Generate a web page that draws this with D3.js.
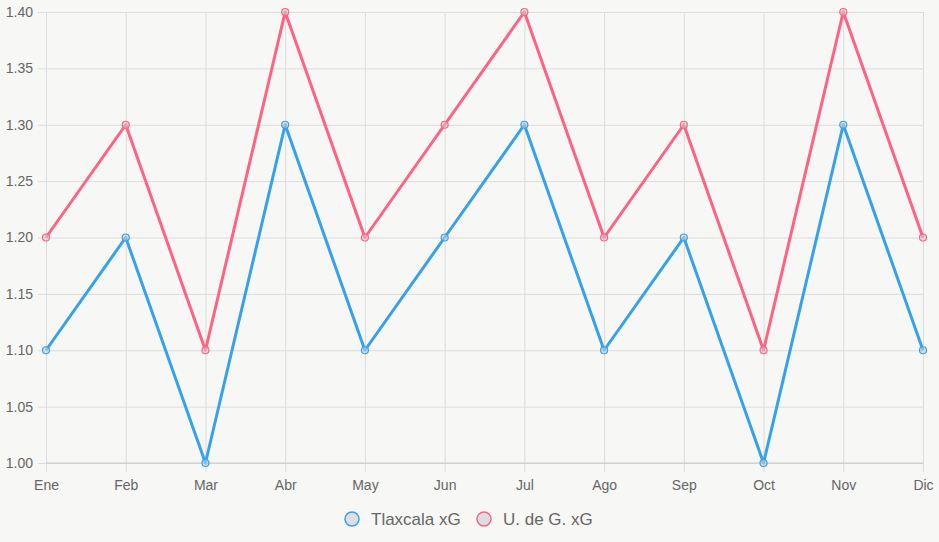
<!DOCTYPE html>
<html>
<head>
<meta charset="utf-8">
<script src="https://cdn.jsdelivr.net/npm/d3@7"></script>
<style>
  html, body { margin: 0; padding: 0; background: #f7f7f5; }
  svg { display: block; font-family: "Liberation Sans", Arial, sans-serif; }
</style>
</head>
<body>
<div id="chart"></div>
<script>
// datos
const meses = ["Ene", "Feb", "Mar", "Abr", "May", "Jun", "Jul", "Ago", "Sep", "Oct", "Nov", "Dic"];
const tlaxcala = [1.1, 1.2, 1.0, 1.3, 1.1, 1.2, 1.3, 1.1, 1.2, 1.0, 1.3, 1.1];
const udeg = [1.2, 1.3, 1.1, 1.4, 1.2, 1.3, 1.4, 1.2, 1.3, 1.1, 1.4, 1.2];
const yTicks = [1.0, 1.05, 1.1, 1.15, 1.2, 1.25, 1.3, 1.35, 1.4];

const series = [
  { nombre: "Tlaxcala xG", valores: tlaxcala, color: "#36a2eb" },
  { nombre: "U. de G. xG", valores: udeg, color: "#ff6384" }
];

const width = 939, height = 542;
const margin = { top: 12, right: 16, bottom: 79, left: 46 };
const innerW = width - margin.left - margin.right;
const innerH = height - margin.top - margin.bottom;

const svg = d3.select("#chart").append("svg")
  .attr("width", width)
  .attr("height", height);

const g = svg.append("g")
  .attr("transform", `translate(${margin.left},${margin.top})`);

const x = d3.scalePoint().domain(meses).range([0, innerW]);
const y = d3.scaleLinear().domain([1.0, 1.4]).range([innerH, 0]);

// rejilla horizontal
g.append("g")
  .call(d3.axisLeft(y).tickValues(yTicks).tickFormat(d3.format(".2f"))
    .tickSize(-innerW).tickPadding(13))
  .call(a => a.select(".domain").remove())
  .call(a => a.selectAll("line").attr("stroke", "#dcdcdc").attr("x1", -8))
  .call(a => a.selectAll("text").attr("fill", "#666").style("font-size", "14px"));

// rejilla vertical
g.append("g")
  .attr("transform", `translate(0,${innerH})`)
  .call(d3.axisBottom(x).tickSize(-innerH).tickPadding(17))
  .call(a => a.select(".domain").remove())
  .call(a => a.selectAll("line").attr("stroke", "#dcdcdc").attr("y1", 9))
  .call(a => a.selectAll("text").attr("fill", "#666").style("font-size", "14px"));

// eje inferior
g.append("line")
  .attr("x1", 0).attr("x2", innerW)
  .attr("y1", innerH).attr("y2", innerH)
  .attr("stroke", "#c8c8c8");

const linea = d3.line()
  .x((d, i) => x(meses[i]))
  .y(d => y(d));

series.forEach(s => {
  g.append("path")
    .datum(s.valores)
    .attr("d", linea)
    .attr("fill", "none")
    .attr("stroke", s.color)
    .attr("stroke-width", 3)
    .attr("stroke-linejoin", "round");

  g.selectAll(null)
    .data(s.valores)
    .join("circle")
    .attr("cx", (d, i) => x(meses[i]))
    .attr("cy", d => y(d))
    .attr("r", 3.5)
    .attr("fill", "rgba(201,203,207,0.6)")
    .attr("stroke", s.color)
    .attr("stroke-width", 1.2);
});

// leyenda
const leyenda = svg.append("g").attr("transform", "translate(0,519)");
const posiciones = [352, 484];
series.forEach((s, i) => {
  leyenda.append("circle")
    .attr("cx", posiciones[i])
    .attr("cy", 0)
    .attr("r", 7)
    .attr("fill", "#dedede")
    .attr("stroke", s.color)
    .attr("stroke-width", 1.5);
  leyenda.append("text")
    .attr("x", posiciones[i] + 19)
    .attr("y", 6)
    .attr("fill", "#666")
    .style("font-size", "17px")
    .text(s.nombre);
});
</script>
</body>
</html>
